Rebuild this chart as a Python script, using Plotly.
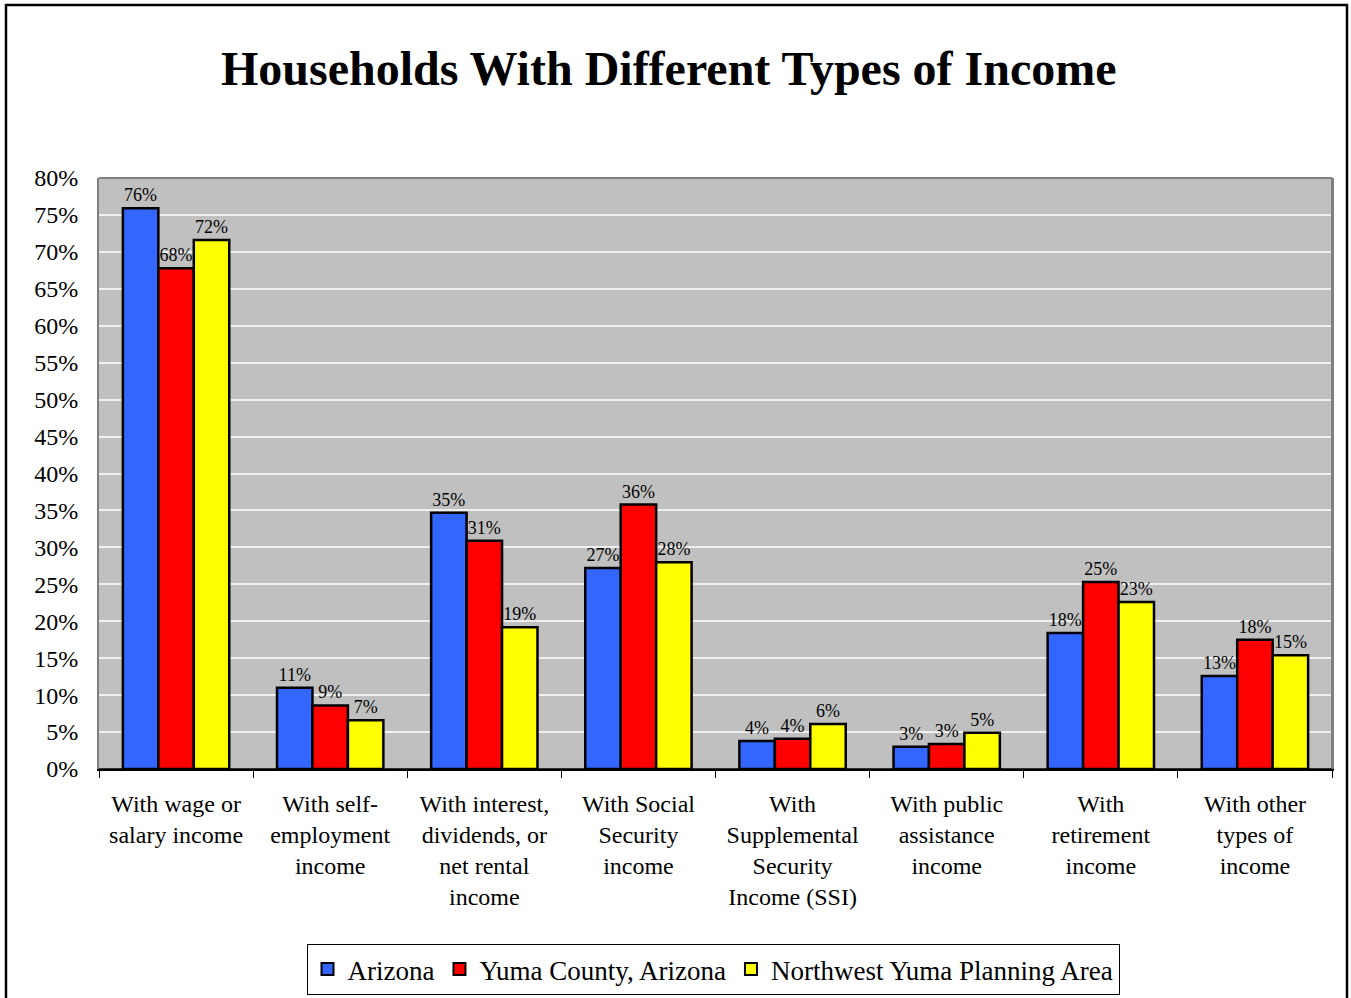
import plotly.graph_objects as go

# Share of households by income type
categories = [
    "With wage or<br>salary income",
    "With self-<br>employment<br>income",
    "With interest,<br>dividends, or<br>net rental<br>income",
    "With Social<br>Security<br>income",
    "With<br>Supplemental<br>Security<br>Income (SSI)",
    "With public<br>assistance<br>income",
    "With<br>retirement<br>income",
    "With other<br>types of<br>income",
]
arizona = [75.9, 11.0, 34.7, 27.2, 3.8, 3.0, 18.4, 12.6]
yuma_county = [67.8, 8.6, 30.9, 35.8, 4.1, 3.4, 25.3, 17.5]
northwest_yuma = [71.6, 6.6, 19.2, 28.0, 6.1, 4.9, 22.6, 15.4]

series = [
    ("Arizona", arizona, "#3366FF"),
    ("Yuma County, Arizona", yuma_county, "#FF0000"),
    ("Northwest Yuma Planning Area", northwest_yuma, "#FFFF00"),
]

SERIF = "Liberation Serif, Times New Roman, serif"

fig = go.Figure()
for name, vals, color in series:
    fig.add_trace(go.Bar(
        name=name,
        x=categories,
        y=vals,
        marker=dict(color=color, line=dict(color="black", width=2.5)),
        text=[f"{round(v):.0f}%" for v in vals],
        textposition="outside",
        textfont=dict(family=SERIF, size=18, color="black"),
        cliponaxis=False,
    ))

W, H = 1351, 998
L, R, T, B = 99, 19, 178, 229
pw, ph = W - L - R, H - T - B

def px_x(p):
    return (p - L) / pw

def px_y(p):
    return (H - B - p) / ph

fig.update_layout(
    width=W, height=H,
    margin=dict(l=L, r=R, t=T, b=B, autoexpand=False),
    paper_bgcolor="white",
    plot_bgcolor="#C0C0C0",
    barmode="group",
    bargap=0.31,
    bargroupgap=0,
    title=dict(
        text="<b>Households With Different Types of Income</b>",
        font=dict(family=SERIF, size=48, color="black"),
        x=0.495, xanchor="center", y=1 - 68 / H, yanchor="middle",
    ),
    font=dict(family=SERIF, color="black"),
    showlegend=True,
    legend=dict(
        orientation="h",
        x=px_x(713), xanchor="center",
        y=px_y(944), yanchor="top",
        bordercolor="black", borderwidth=1,
        bgcolor="white",
        font=dict(family=SERIF, size=27, color="black"),
        itemsizing="constant",
        traceorder="normal",
        itemwidth=30,
    ),
)

fig.update_yaxes(
    range=[0, 80],
    dtick=5,
    ticksuffix="%",
    showgrid=True, gridcolor="#F0F0F0", gridwidth=2,
    zeroline=False,
    showline=True, linecolor="#808080", linewidth=2, mirror=True,
    ticks="", ticklen=0,
    ticklabelstandoff=14,
    automargin=False,
    tickfont=dict(family=SERIF, size=24, color="black"),
)
fig.update_xaxes(
    showline=True, linecolor="black", linewidth=1.5,
    tickson="boundaries", ticks="outside", ticklen=7, tickcolor="black",
    ticklabelstandoff=12,
    automargin=False,
    tickfont=dict(family=SERIF, size=24, color="black"),
    tickangle=0,
)

# gray frame on the top and right of the plot area
fig.add_shape(type="line", xref="paper", yref="paper", x0=0, x1=1, y0=1, y1=1,
              line=dict(color="#808080", width=2))
fig.add_shape(type="line", xref="paper", yref="paper", x0=1, x1=1, y0=0, y1=1,
              line=dict(color="#808080", width=2))
# black baseline
fig.add_shape(type="line", xref="paper", yref="paper", x0=0, x1=1, y0=0, y1=0,
              line=dict(color="black", width=1.5))

# outer chart border
fig.add_shape(type="rect", xref="paper", yref="paper",
              x0=px_x(6), x1=px_x(1347), y0=px_y(1010), y1=px_y(5),
              line=dict(color="black", width=2.5), fillcolor="rgba(0,0,0,0)",
              layer="below")

fig.write_html("out.html")
